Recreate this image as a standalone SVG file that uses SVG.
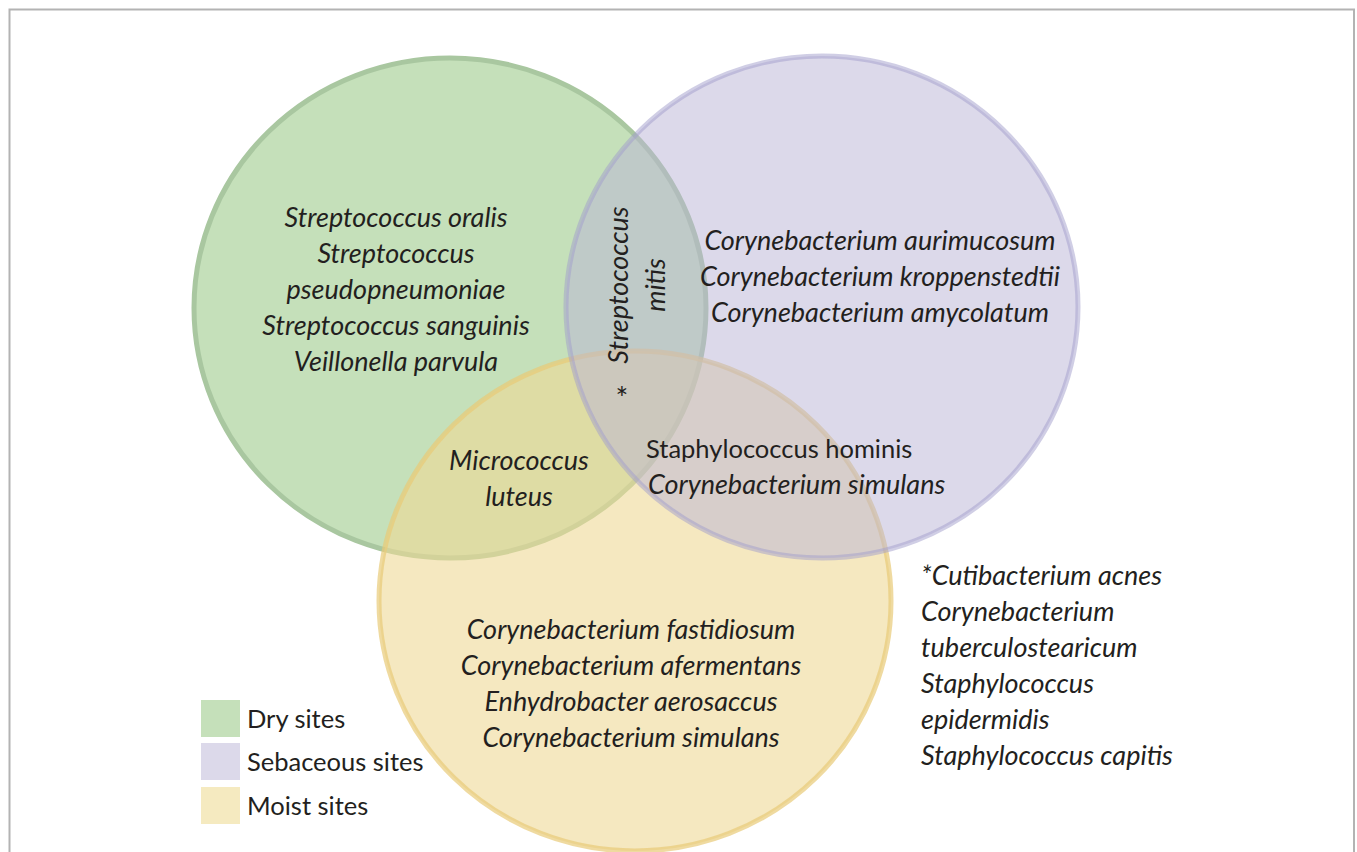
<svg xmlns="http://www.w3.org/2000/svg" width="1357" height="852" viewBox="0 0 1357 852">
<style>
  text { font-family: Lato, "Open Sans", "Liberation Sans", sans-serif; font-size: 25.5px; fill: #231f20; }
  .it { font-style: italic; font-size: 27px; }
  .mid { text-anchor: middle; }
</style>
<rect x="0" y="0" width="1357" height="852" fill="#ffffff"/>
<path d="M9.5 860 V9.5 H1354 V860" fill="none" stroke="#b3b3b3" stroke-width="2"/>
<g id="dry">
  <ellipse cx="450" cy="308" rx="256" ry="250" fill="#c5e0ba" stroke="#a9c7a0" stroke-width="5"/>
</g>
<g id="moist">
  <ellipse cx="635" cy="601" rx="256" ry="250" fill="#eed896" fill-opacity="0.6" stroke="#e8ca78" stroke-opacity="0.7" stroke-width="5"/>
</g>
<g id="sebaceous">
  <ellipse cx="822" cy="307" rx="256" ry="251" fill="#b9b3d6" fill-opacity="0.5" stroke="#a29dcb" stroke-opacity="0.5" stroke-width="5"/>
</g>
<g id="dry-text">
  <text class="it mid" x="396" y="227">Streptococcus oralis</text>
  <text class="it mid" x="396" y="263">Streptococcus</text>
  <text class="it mid" x="396" y="299">pseudopneumoniae</text>
  <text class="it mid" x="396" y="335">Streptococcus sanguinis</text>
  <text class="it mid" x="396" y="371">Veillonella parvula</text>
</g>
<g id="dry-sebaceous-text">
  <text class="it mid" transform="translate(628 285) rotate(-90)">Streptococcus</text>
  <text class="it mid" transform="translate(665 285) rotate(-90)">mitis</text>
  <text class="mid" x="622" y="409" style="font-size:30px">*</text>
</g>
<g id="sebaceous-text">
  <text class="it mid" x="880" y="250">Corynebacterium aurimucosum</text>
  <text class="it mid" x="880" y="286">Corynebacterium kroppenstedtii</text>
  <text class="it mid" x="880" y="322">Corynebacterium amycolatum</text>
</g>
<g id="dry-moist-text">
  <text class="it mid" x="519" y="470">Micrococcus</text>
  <text class="it mid" x="519" y="506">luteus</text>
</g>
<g id="sebaceous-moist-text">
  <text x="646" y="458">Staphylococcus hominis</text>
  <text class="it" x="648" y="494">Corynebacterium simulans</text>
</g>
<g id="moist-text">
  <text class="it mid" x="631" y="639">Corynebacterium fastidiosum</text>
  <text class="it mid" x="631" y="675">Corynebacterium afermentans</text>
  <text class="it mid" x="631" y="711">Enhydrobacter aerosaccus</text>
  <text class="it mid" x="631" y="747">Corynebacterium simulans</text>
</g>
<g id="all-sites-text">
  <text class="it" x="921" y="585">*Cutibacterium acnes</text>
  <text class="it" x="921" y="621">Corynebacterium</text>
  <text class="it" x="921" y="657">tuberculostearicum</text>
  <text class="it" x="921" y="693">Staphylococcus</text>
  <text class="it" x="921" y="729">epidermidis</text>
  <text class="it" x="921" y="765">Staphylococcus capitis</text>
</g>
<g id="legend">
  <rect x="201" y="700" width="39" height="37" fill="#c5e0ba"/>
  <rect x="201" y="743" width="39" height="37" fill="#dcd9ea"/>
  <rect x="201" y="787" width="39" height="37" fill="#f5eac0"/>
  <text x="247" y="728">Dry sites</text>
  <text x="247" y="771">Sebaceous sites</text>
  <text x="247" y="815">Moist sites</text>
</g>
<g id="connectors"></g>
</svg>
